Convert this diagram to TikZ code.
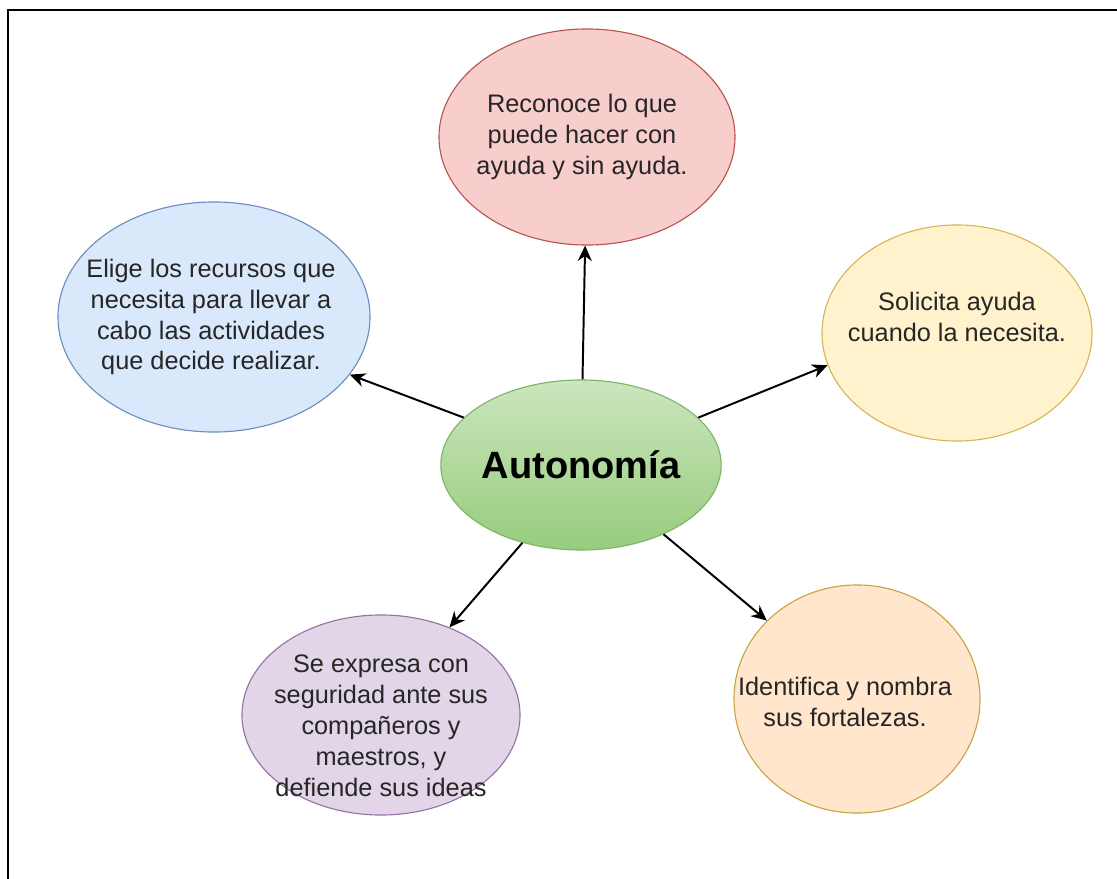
\documentclass[tikz,border=0pt]{standalone}
\usepackage{fontspec}
\setmainfont{Liberation Sans}
\usetikzlibrary{shapes.geometric,arrows.meta}
\definecolor{redfill}{HTML}{F8CECC}\definecolor{redline}{HTML}{B85450}
\definecolor{bluefill}{HTML}{DAE8FC}\definecolor{blueline}{HTML}{6C8EBF}
\definecolor{yelfill}{HTML}{FFF2CC}\definecolor{yelline}{HTML}{D6B656}
\definecolor{grntop}{HTML}{CBE6BD}\definecolor{grnbot}{HTML}{97CC7E}\definecolor{grnline}{HTML}{82B366}
\definecolor{purfill}{HTML}{E1D5E7}\definecolor{purline}{HTML}{9673A6}
\definecolor{orgfill}{HTML}{FFE6CC}\definecolor{orgline}{HTML}{C9A445}
\begin{document}
\begin{tikzpicture}[x=0.025cm,y=-0.025cm,
  bubble/.style={ellipse, draw, line width=0.8pt, inner sep=0pt},
  txt/.style={align=center, font=\fontsize{18}{22}\selectfont, text=black!85, inner sep=0pt},
  conn/.style={-{Stealth[length=11pt,width=10pt]}, line width=1.4pt},
]
\useasboundingbox (0,0) rectangle (1117,879);
\draw[line width=1.6pt] (8,879) -- (8,10) -- (1117,10);

\node[bubble, fill=redfill, draw=redline, minimum width=7.4cm, minimum height=5.4cm] (red) at (587,137) {};
\node[bubble, fill=bluefill, draw=blueline, minimum width=7.8cm, minimum height=5.75cm] (blue) at (214,317) {};
\node[bubble, fill=yelfill, draw=yelline, minimum width=6.75cm, minimum height=5.4cm] (yel) at (957,333) {};
\node[bubble, top color=grntop, bottom color=grnbot, draw=grnline, minimum width=6.4cm, minimum height=4.25cm,
      font=\fontsize{27}{32}\selectfont\bfseries] (grn) at (581,465) {Autonom\'ia};
\node[bubble, fill=purfill, draw=purline, minimum width=6.95cm, minimum height=5cm] (pur) at (381,715) {};
\node[bubble, fill=orgfill, draw=orgline, minimum width=6.15cm, minimum height=5.7cm] (org) at (857,699) {};

\node[txt] (redtxt) at (582,137) {Reconoce lo que\\puede hacer con\\ayuda y sin ayuda.};
\node[txt] (bluetxt) at (211,317) {Elige los recursos que\\necesita para llevar a\\cabo las actividades\\ que decide realizar.};
\node[txt] (yeltxt) at (957,317) {Solicita ayuda\\cuando la necesita.};
\node[txt] (purtxt) at (381,726) {Se expresa con\\seguridad ante sus\\compañeros y\\maestros, y\\defiende sus ideas};
\node[txt] (orgtxt) at (845,702) {Identifica y nombra\\sus fortalezas.};

\draw[conn] (grn.89) -- (red.-91);
\draw[conn] (grn.158) -- (blue.-23);
\draw[conn] (grn.22) -- (yel.-166.5);
\draw[conn] (grn.-127) -- (pur.52);
\draw[conn] (grn.-40) -- (org.139);
\end{tikzpicture}
\end{document}
